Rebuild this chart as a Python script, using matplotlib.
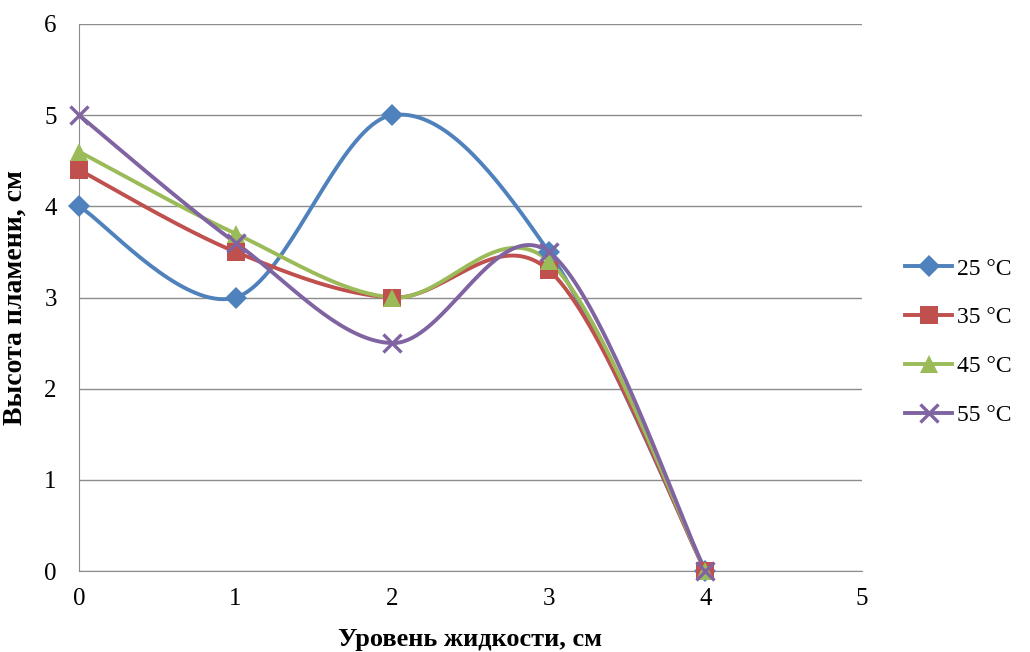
import numpy as np
import matplotlib
matplotlib.use("Agg")
import matplotlib.pyplot as plt

plt.rcParams['font.family'] = ['Liberation Serif', 'DejaVu Serif']

# данные
x = [0, 1, 2, 3, 4]
labels = ['25 °C', '35 °C', '45 °C', '55 °C']
y25 = [4.0, 3.0, 5.0, 3.5, 0.0]
y35 = [4.4, 3.5, 3.0, 3.3, 0.0]
y45 = [4.6, 3.7, 3.0, 3.4, 0.0]
y55 = [5.0, 3.6, 2.5, 3.5, 0.0]

colors = ['#4F81BD', '#C0504D', '#9BBB59', '#8064A2']
markers = ['D', 's', '^', 'x']
msizes = [11, 13, 13, 13]


# сглаживание как в Excel (кривые Безье через точки)
def smooth(xs, ys, n=40):
    p = np.column_stack([xs, ys]).astype(float)
    out = []
    for i in range(len(p) - 1):
        p0 = p[i - 1] if i > 0 else p[i]
        p1 = p[i]
        p2 = p[i + 1]
        p3 = p[i + 2] if i + 2 < len(p) else p[i + 1]
        c1 = p1 + (p2 - p0) / 6
        c2 = p2 - (p3 - p1) / 6
        t = np.linspace(0, 1, n)[:, None]
        seg = (1 - t) ** 3 * p1 + 3 * (1 - t) ** 2 * t * c1 + 3 * (1 - t) * t ** 2 * c2 + t ** 3 * p2
        out.append(seg if i == 0 else seg[1:])
    seg = np.vstack(out)
    return seg[:, 0], seg[:, 1]


fig = plt.figure(figsize=(10.3, 6.52), dpi=100)
ax = fig.add_axes([79 / 1030, 1 - 571 / 652, (862 - 79) / 1030, (571 - 24) / 652])

for ys, c, m, ms, lab in zip([y25, y35, y45, y55], colors, markers, msizes, labels):
    sx, sy = smooth(x, ys)
    mew = 2.4 if m == 'x' else 0
    ax.plot(sx, sy, color=c, lw=2.8, zorder=3, solid_capstyle='round', clip_on=False)
    ax.plot(x, ys, ls='none', marker=m, color=c, ms=ms, mew=mew, zorder=4, clip_on=False)
    ax.plot([], [], color=c, lw=2.8, marker=m, ms=ms, mew=mew, label=lab)

ax.set_xlim(0, 5)
ax.set_ylim(0, 6)
ax.set_xticks(range(6))
ax.set_yticks(range(7))
ax.yaxis.grid(True, color='#8c8c8c', lw=1)
ax.set_axisbelow(True)
for s in ['top', 'right']:
    ax.spines[s].set_visible(False)
for s in ['left', 'bottom']:
    ax.spines[s].set_color('#8c8c8c')
ax.tick_params(length=0, labelsize=18, pad=12)
ax.tick_params(axis='y', pad=16)
ax.set_xlabel('Уровень жидкости, см', fontsize=19, fontweight='bold', labelpad=13)
ax.set_ylabel('Высота пламени, см', fontsize=20, fontweight='bold', labelpad=12)

fig.legend(loc='center left', bbox_to_anchor=(905 / 1030, 1 - 342 / 652), frameon=False,
           fontsize=17, handlelength=2.0, handletextpad=0.2, labelspacing=1.15,
           borderaxespad=0, borderpad=0)

fig.savefig('out.png', dpi=100)
